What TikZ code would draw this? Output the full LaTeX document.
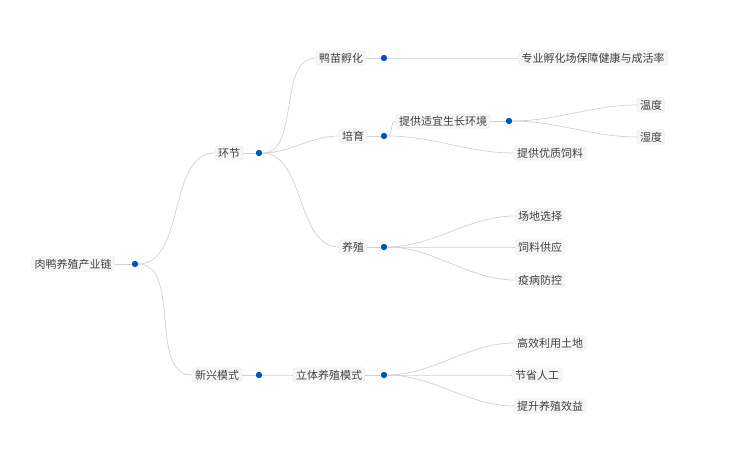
\documentclass[tikz,border=0pt]{standalone}
\usepackage{fontspec}
\setmainfont{Noto Sans CJK SC}
\begin{document}
\begin{tikzpicture}[x=1pt,y=-1pt,
  box/.style={draw=black!10,fill=black!3,rounded corners=3pt,inner xsep=3pt,inner ysep=2pt,font=\fontsize{11}{13}\selectfont,text=black!75},
  dot/.style={circle,fill=blue!60!cyan!80!black,draw=none,inner sep=0pt,minimum size=6pt},
  ln/.style={draw=black!18,line width=0.7pt},
  cv/.style={ln,out=0,in=180,looseness=0.9}]
\useasboundingbox (0,0) rectangle (754,449);
\node[box] (r) at (73,264) {肉鸭养殖产业链}; \node[dot] (rd) at (135,264) {};
\node[box] (a) at (229,153) {环节}; \node[dot] (ad) at (259,153) {};
\node[box] (b) at (217,375) {新兴模式}; \node[dot] (bd) at (259,375) {};
\node[box] (a1) at (341,58) {鸭苗孵化}; \node[dot] (a1d) at (384,58) {};
\node[box] (a2) at (353,136) {培育}; \node[dot] (a2d) at (384,136) {};
\node[box] (a3) at (353,247) {养殖}; \node[dot] (a3d) at (384,247) {};
\node[box] (b1) at (329,375) {立体养殖模式}; \node[dot] (b1d) at (384,375) {};
\node[box] (a11) at (593,58) {专业孵化场保障健康与成活率};
\node[box] (a21) at (443,121) {提供适宜生长环境}; \node[dot] (a21d) at (509,121) {};
\node[box] (a22) at (550,153) {提供优质饲料};
\node[box] (t1) at (651,105) {温度};
\node[box] (t2) at (651,137) {湿度};
\node[box] (a31) at (540,216) {场地选择};
\node[box] (a32) at (540,247) {饲料供应};
\node[box] (a33) at (540,280) {疫病防控};
\node[box] (b11) at (550,343) {高效利用土地};
\node[box] (b12) at (537,375) {节省人工};
\node[box] (b13) at (550,406) {提升养殖效益};
\foreach \p/\d in {r/rd,a/ad,b/bd,a1/a1d,a2/a2d,a3/a3d,b1/b1d,a21/a21d}
  \draw[ln] (\p.east) -- (\d);
\foreach \d/\c in {rd/a,rd/b,ad/a1,ad/a2,ad/a3,bd/b1,a1d/a11,a2d/a21,a2d/a22,a21d/t1,a21d/t2,a3d/a31,a3d/a32,a3d/a33,b1d/b11,b1d/b12,b1d/b13}
  \draw[cv] (\d) to (\c.west);
\foreach \d in {rd,ad,bd,a1d,a2d,a3d,b1d,a21d} \node[dot] at (\d) {};
\end{tikzpicture}
\end{document}
